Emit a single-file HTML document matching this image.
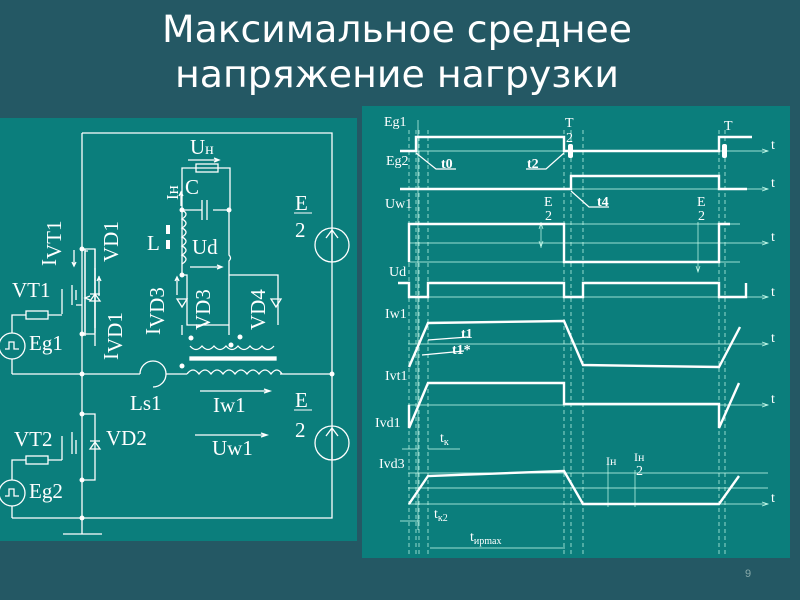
<!DOCTYPE html>
<html><head><meta charset="utf-8"><style>
html,body{margin:0;padding:0;background:#245864;width:800px;height:600px;overflow:hidden}
svg{display:block}
</style></head><body>
<svg width="800" height="600" viewBox="0 0 800 600" xmlns="http://www.w3.org/2000/svg" font-family="Liberation Serif, serif" fill="none">
<rect width="800" height="600" fill="#245864"/>
<text x="397" y="42" font-family="DejaVu Sans, sans-serif" font-size="37" fill="#fff" text-anchor="middle" textLength="470" lengthAdjust="spacingAndGlyphs">Максимальное среднее</text>
<text x="397" y="87" font-family="DejaVu Sans, sans-serif" font-size="37" fill="#fff" text-anchor="middle" textLength="444" lengthAdjust="spacingAndGlyphs">напряжение нагрузки</text>
<text x="745" y="577" font-family="Liberation Sans, sans-serif" font-size="11" fill="#8aa">9</text>

<!-- LEFT PANEL -->
<rect x="0" y="118" width="357" height="423" fill="#0b7e7c"/>
<g stroke="#fff" stroke-width="1.3">
<path d="M82 133H332V518H12M82 133V518M12 374H140M166 374H187M280 374H332M82 534V518M63 534H102"/>
<path d="M140 374a13 13 0 1 1 13 13" />
<path d="M187 374q6-8 12 0q6-8 12 0q6-8 12 0q6-8 12 0q6-8 12 0q6-8 12 0q6-8 12 0q6-8 11 0"/>
<rect x="190" y="357" width="86" height="3" fill="#fff"/>
<path d="M190 346q6 7 12 0q6 7 12 0q6 7 12 0q6 7 12 0q6 7 12 0q6 7 12 0q6 7 12 0"/>
<circle cx="332" cy="245" r="17"/><path d="M332 262V230M326 238l6-8 6 8"/>
<circle cx="332" cy="443" r="17"/><path d="M332 460V428M326 436l6-8 6 8"/>
<!-- VT1 -->
<path d="M82 249h13v27M82 334h13v-26M95 249v97M72 285v20M76 290v10M76 305h6M62 314v-25"/>
<path d="M95 249V333"/>
<path d="M85 249V334"/>
<circle cx="12" cy="346" r="13"/><path d="M5 349h4v-7h5v7h5"/>
<path d="M12 333V315h14M48 315h14"/><rect x="26" y="311" width="22" height="8"/>
<path d="M88 251h-3v85M95 268v60M90 300l-5-2 5-2"/>
<path d="M95 294l-5 7h10zM90 294h10"/>
<path d="M12 359V374"/>
<!-- VT2 -->
<path d="M82 414h13v66h-13M72 432v22M76 440v14M62 460v-24M12 480v-20h14M48 460h14"/><rect x="26" y="456" width="22" height="8"/>
<path d="M95 442l-5 7h10zM90 441h10"/>
<circle cx="12" cy="493" r="13"/><path d="M5 496h4v-7h5v7h5M12 506V518"/>
<!-- load circuit -->
<path d="M182 210V168h48V210M182 210V275H187v50h42V275M229 275h49v50M229 275v60M182 325v10M229 325v10M229 210v45q3 3 0 6v14"/>
<rect x="196" y="164" width="22" height="8"/>
<path d="M182 210h20M213 210h16M202 200v20M207 200v20"/>
<path d="M182 210q8 4 0 9q8 4 0 9q8 4 0 9q8 4 0 9q8 4 0 9q8 4 0 9"/>
<rect x="166" y="225" width="4" height="9" fill="#fff" stroke="none"/><rect x="166" y="240" width="4" height="9" fill="#fff" stroke="none"/>
<path d="M182 307l-5-8h10zM177 299h10M276 307l-5-8h10zM271 299h10"/>
<path d="M188 160h31M214 158l5 2-5 2M190 267h32M217 265l5 2-5 2M181 206v-14M179 196l2-4 2 4"/>
<path d="M200 391h70M264 389l6 2-6 2M195 435h72M261 433l6 2-6 2"/>
<path d="M74 250v16M72 262l2 4 2-4"/>
<path d="M99 296v-20M97 281l2-4 2 4"/>
<path d="M177 295v-18M175 281l2-4 2 4"/>
</g>
<g fill="#fff" stroke="none">
<circle cx="82" cy="249" r="2.5"/><circle cx="82" cy="334" r="2.5"/><circle cx="82" cy="374" r="2.5"/><circle cx="82" cy="414" r="2.5"/><circle cx="82" cy="480" r="2.5"/><circle cx="82" cy="518" r="2.5"/><circle cx="332" cy="374" r="2.5"/>
<circle cx="182" cy="210" r="2.5"/><circle cx="229" cy="210" r="2.5"/><circle cx="182" cy="275" r="2.5"/><circle cx="231" cy="345" r="2.5"/>
<circle cx="191" cy="338" r="2.5"/><circle cx="240" cy="337" r="2.5"/><circle cx="182" cy="366" r="2.5"/>
</g>
<g fill="#fff" font-size="21">
<text x="190" y="154">U<tspan font-size="16">н</tspan></text>
<text x="185" y="194">C</text>
<text x="147" y="250">L</text>
<text x="192" y="254">Ud</text>
<text x="295" y="210">E</text><path d="M294 213h18" stroke="#fff"/><text x="295" y="237">2</text>
<text x="295" y="407">E</text><path d="M294 410h18" stroke="#fff"/><text x="295" y="437">2</text>
<text x="12" y="297">VT1</text>
<text x="29" y="350">Eg1</text>
<text x="130" y="410">Ls1</text>
<text x="213" y="412">Iw1</text>
<text x="212" y="455">Uw1</text>
<text x="14" y="446">VT2</text>
<text x="106" y="445">VD2</text>
<text x="29" y="498">Eg2</text>
<text transform="translate(178 200) rotate(-90)" font-size="17">Iн</text>
<text transform="translate(56 266) rotate(-90)">I<tspan dy="5">VT1</tspan></text>
<text transform="translate(118 262) rotate(-90)">VD1</text>
<text transform="translate(118 360) rotate(-90)">I<tspan dy="4">VD1</tspan></text>
<text transform="translate(160 335) rotate(-90)">I<tspan dy="4">VD3</tspan></text>
<text transform="translate(210 330) rotate(-90)">VD3</text>
<text transform="translate(265 330) rotate(-90)">VD4</text>
</g>

<!-- RIGHT PANEL -->
<rect x="362" y="106" width="428" height="452" fill="#0b7e7c"/>
<g stroke="#cfe" stroke-width="0.7" stroke-dasharray="4 3">
<path d="M409 130V556M416 130V556M419 130V556M428 130V556M564 130V556M571 130V556M583 130V556M719 130V556M725 130V556"/>
</g>
<g stroke="#cfe" stroke-width="0.7">
<path d="M408 151H768M408 189H768M408 224H740M408 243H768M408 262H740M408 297H768M408 344H768M408 405H768M408 473H768M408 488H768M408 504H768"/>
<path d="M762 149l6 2-6 2M762 187l6 2-6 2M762 241l6 2-6 2M762 295l6 2-6 2M762 342l6 2-6 2M762 403l6 2-6 2M762 502l6 2-6 2"/>
<path d="M418 120V530"/>
<path d="M541 222V248M539 229l2 -6 2 6M539 241l2 6 2-6M698 222V272M696 266l2 6 2-6"/>
<path d="M402 449H418M428 449H460M608 458V507M635 470V507M400 521H420M430 548H565"/>
</g>
<g stroke="#fff" stroke-width="2.4" stroke-linejoin="miter">
<path d="M400 151H416V137H564V151H719V137H752"/>
<path d="M400 189H571V176H719V189H747"/>
<path d="M409 262V224H564V262H719V224H730"/>
<path d="M398 283H409V297H428V283H564V297H583V283H719V297H746V283"/>
<path d="M409 367L428 323L564 321L583 365L719 367L740 327"/>
<path d="M409 405V428L428 383L564 383V404H719V428L739 383"/>
<path d="M409 504L428 476L564 471L583 504H719L739 476"/>
</g>
<g stroke="#fff" stroke-width="1.2">
<path d="M416 153l20 16h20M564 153l-18 16h-20M571 191l18 16h20M428 340l40-3M422 355l42-4"/>
</g>
<rect x="568" y="144" width="5" height="14" rx="2" fill="#fff"/><rect x="722" y="144" width="5" height="14" rx="2" fill="#fff"/>
<g fill="#fff" font-size="14">
<text x="384" y="126">Eg1</text><text x="386" y="165">Eg2</text><text x="385" y="208">Uw1</text><text x="389" y="276">Ud</text>
<text x="385" y="318">Iw1</text><text x="385" y="380">Ivt1</text><text x="375" y="427">Ivd1</text><text x="379" y="468">Ivd3</text>
<text x="565" y="127">T</text><text x="566" y="142">2</text><text x="724" y="130">T</text>
<text x="544" y="206">E</text><text x="545" y="220">2</text><text x="697" y="206">E</text><text x="698" y="220">2</text>
<text x="606" y="465" font-size="12">Iн</text><text x="634" y="461" font-size="12">Iн</text><text x="636" y="475">2</text>
<text x="440" y="442">t<tspan font-size="10" dy="3">к</tspan></text>
<text x="434" y="518">t<tspan font-size="10" dy="3">к2</tspan></text>
<text x="470" y="541">t<tspan font-size="10" dy="3">ирmax</tspan></text>
<g font-weight="bold"><text x="441" y="168">t0</text><text x="527" y="168">t2</text><text x="597" y="206">t4</text><text x="461" y="338">t1</text><text x="452" y="354">t1*</text></g>
<text x="771" y="149">t</text><text x="771" y="187">t</text><text x="771" y="241">t</text><text x="771" y="296">t</text><text x="771" y="342">t</text><text x="771" y="403">t</text><text x="771" y="502">t</text>
</g>
</svg>
</body></html>
